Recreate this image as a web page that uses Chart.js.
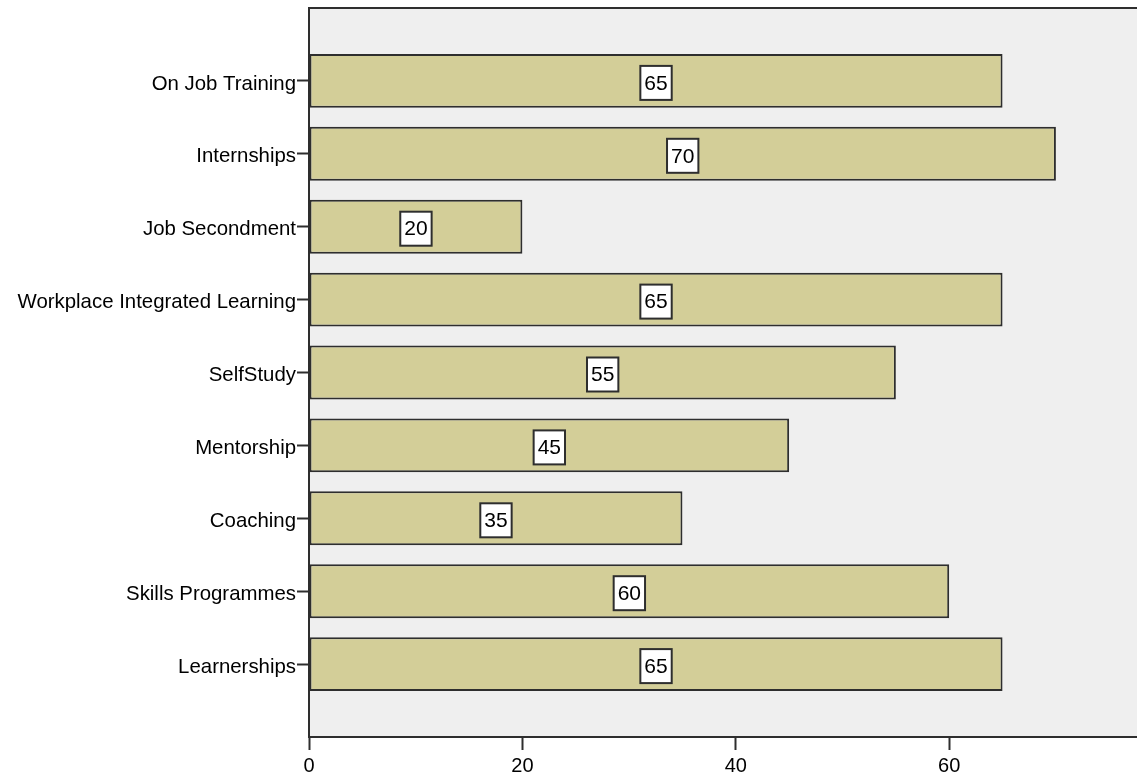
<!DOCTYPE html>
<html>
<head>
<meta charset="utf-8">
<script src="https://cdn.jsdelivr.net/npm/chart.js@4/dist/chart.umd.min.js"></script>
<style>
  html, body { margin: 0; padding: 0; background: #fff; }
  #wrap { width: 1137px; height: 773px; }
</style>
</head>
<body>
<div id="wrap"><canvas id="chartFormas"></canvas></div>
<script>
  // Datos
  const categorias = [
    "On Job Training", "Internships", "Job Secondment", "Workplace Integrated Learning",
    "SelfStudy", "Mentorship", "Coaching", "Skills Programmes", "Learnerships"
  ];
  const valores = [65, 70, 20, 65, 55, 45, 35, 60, 65];
  const ticksX = [0, 20, 40, 60];

  const FUENTE = "'Liberation Sans', Arial, sans-serif";
  const OSCURO = "#2e2e2e";

  // hueco vacío arriba y abajo (una categoría entera a cada lado)
  const etiquetas = ["", ...categorias, ""];
  const datos = [null, ...valores, null];

  // fondo gris del área y línea superior
  const fondoArea = {
    id: "fondoArea",
    beforeDraw(chart) {
      const { ctx, chartArea: a } = chart;
      ctx.save();
      ctx.fillStyle = "#efefef";
      ctx.fillRect(a.left, a.top, a.right - a.left, a.bottom - a.top);
      ctx.strokeStyle = OSCURO;
      ctx.lineWidth = 2;
      ctx.beginPath();
      ctx.moveTo(a.left, a.top);
      ctx.lineTo(a.right, a.top);
      ctx.stroke();
      ctx.restore();
    }
  };

  // cajita blanca con el valor en el centro de cada barra
  const etiquetasValor = {
    id: "etiquetasValor",
    afterDatasetsDraw(chart) {
      const { ctx } = chart;
      const meta = chart.getDatasetMeta(0);
      ctx.save();
      ctx.font = "21px " + FUENTE;
      ctx.textAlign = "center";
      ctx.textBaseline = "middle";
      meta.data.forEach((el, i) => {
        const v = datos[i];
        if (v == null) return;
        const cx = (el.x + el.base) / 2;
        const cy = el.y + 2;
        const txt = String(v);
        const w = ctx.measureText(txt).width + 8;
        const h = 34;
        ctx.fillStyle = "#fff";
        ctx.fillRect(cx - w / 2, cy - h / 2, w, h);
        ctx.strokeStyle = OSCURO;
        ctx.lineWidth = 2;
        ctx.strokeRect(cx - w / 2, cy - h / 2, w, h);
        ctx.fillStyle = "#000";
        ctx.fillText(txt, cx, cy + 1);
      });
      ctx.restore();
    }
  };

  new Chart(document.getElementById("chartFormas"), {
    type: "bar",
    data: {
      labels: etiquetas,
      datasets: [{
        data: datos,
        backgroundColor: "#d3ce98",
        borderColor: OSCURO,
        borderWidth: 2,
        borderSkipped: false,
        categoryPercentage: 1,
        barPercentage: 0.74
      }]
    },
    plugins: [fondoArea, etiquetasValor],
    options: {
      responsive: true,
      maintainAspectRatio: false,
      animation: false,
      indexAxis: "y",
      layout: { padding: { top: 8, left: 0, right: 0, bottom: 0 } },
      plugins: { legend: { display: false }, tooltip: { enabled: false } },
      scales: {
        x: {
          min: 0,
          max: 77.6,
          afterFit: (s) => { s.height = 36; s.paddingLeft = 0; s.paddingRight = 0; },
          afterBuildTicks: (s) => { s.ticks = ticksX.map(v => ({ value: v })); },
          grid: { drawOnChartArea: false, drawTicks: true, tickLength: 13, tickWidth: 2, tickColor: OSCURO },
          border: { display: true, color: OSCURO, width: 2 },
          ticks: { color: "#000", font: { family: FUENTE, size: 20 }, padding: 4, maxRotation: 0 }
        },
        y: {
          offset: false,
          afterFit: (s) => { s.width = 309; s.paddingTop = 0; s.paddingBottom = 0; },
          afterBuildTicks: (s) => { s.ticks = s.ticks.filter(t => t.value >= 1 && t.value <= categorias.length); },
          grid: { offset: false, drawOnChartArea: false, drawTicks: true, tickLength: 12, tickWidth: 2, tickColor: OSCURO },
          border: { display: true, color: OSCURO, width: 2 },
          ticks: { autoSkip: false, color: "#000", font: { family: FUENTE, size: 20.4 }, padding: 1, labelOffset: 3 }
        }
      }
    }
  });
</script>
</body>
</html>
